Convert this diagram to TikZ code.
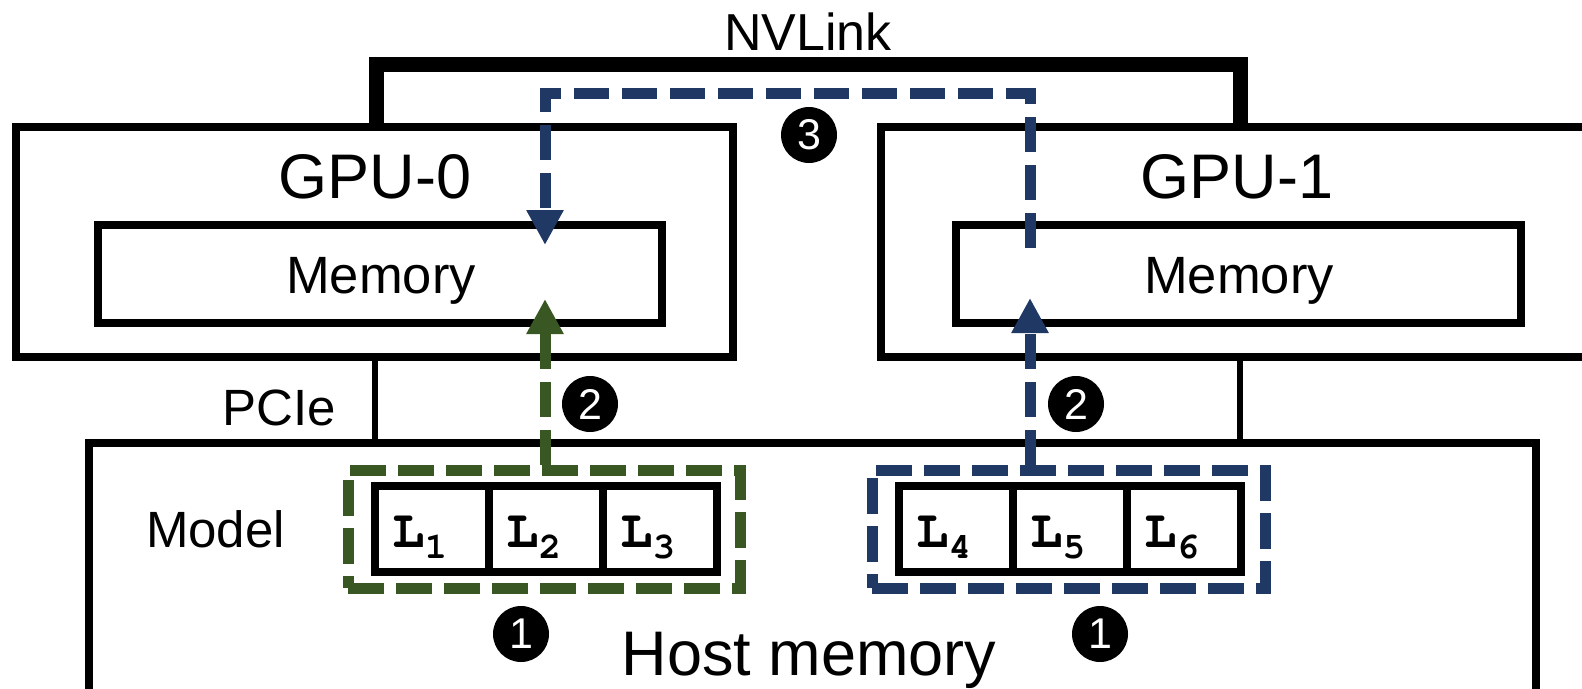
\documentclass[tikz,border=0pt]{standalone}
\usepackage{fontspec}
\setmainfont{Liberation Sans}
\usetikzlibrary{arrows.meta}
\definecolor{nblue}{HTML}{203864}
\definecolor{ngreen}{HTML}{385723}
\newcommand{\fs}[1]{\fontsize{#1}{#1}\selectfont}
\newcommand{\cour}{\fontencoding{OT1}\fontfamily{pcr}\fontseries{b}\fontshape{n}}
\newcommand{\Lsub}[1]{{\cour\fs{54}L\raisebox{-11pt}{\fs{37}#1}}}
\tikzset{
  box/.style={draw, line width=7.5pt, rectangle, inner sep=0pt},
  cell/.style={box, minimum width=114pt, minimum height=86pt},
  grp/.style={draw, line width=11pt, dash pattern=on 36pt off 12pt, rectangle, inner sep=0pt, minimum height=118pt},
  num/.style={circle, fill=black, text=white, minimum size=56pt, inner sep=0pt, font=\fs{43}},
  lbl/.style={inner sep=0pt, anchor=base},
  flow/.style={line width=11pt, dash pattern=on 35pt off 13pt, line join=miter, -{Triangle[length=35pt,width=35pt]}},
}
\begin{document}
\begin{tikzpicture}[x=1pt,y=-1pt]
\useasboundingbox (0,0) rectangle (1582,688);
\begin{scope}
\clip (0,0) rectangle (1582,688);
% GPU boxes
\node[box, minimum width=717pt, minimum height=230pt] (gpu0) at (374.5,242) {};
\node[box, minimum width=769pt, minimum height=230pt] (gpu1) at (1265.5,242) {};
\node[box, minimum width=564pt, minimum height=98pt] (mem0) at (380,274) {};
\node[box, minimum width=565pt, minimum height=98pt] (mem1) at (1238.5,274) {};
\node[lbl, font=\fs{63}] (gpu0t) at (375,198) {GPU-0};
\node[lbl, font=\fs{63}] (gpu1t) at (1237,198) {GPU-1};
\node[lbl, font=\fs{52.5}] (mem0t) at (381,293) {Memory};
\node[lbl, font=\fs{52.5}] (mem1t) at (1239,293) {Memory};
% host
\node[box, minimum width=1447pt, minimum height=277pt] (host) at (812.5,581.5) {};
\node[lbl, font=\fs{63}] (hostt) at (809,675) {Host memory};
\node[lbl, font=\fs{51}] (model) at (215.5,547) {Model};
% NVLink
\coordinate (nvl) at (376,64);
\coordinate (nvr) at (1240,64);
\draw[line width=15pt, line join=miter] (gpu0.north -| nvl) -- (nvl) -- (nvr) -- (gpu1.north -| nvr);
\node[lbl, font=\fs{52}] (nvt) at (808,50) {NVLink};
% PCIe
\coordinate (pl) at (375,400);
\coordinate (pr) at (1240,400);
\draw[line width=6.5pt] (gpu0.south -| pl) -- (host.north -| pl);
\draw[line width=6.5pt] (gpu1.south -| pr) -- (host.north -| pr);
\node[lbl, font=\fs{51}] (pcie) at (279.5,425) {PCIe};
% layer cells
\node[cell] (l1) at (432,529) {};
\node[cell] (l2) at (546,529) {};
\node[cell] (l3) at (660,529) {};
\node[cell] (l4) at (956,529) {};
\node[cell] (l5) at (1070,529) {};
\node[cell] (l6) at (1184,529) {};
\foreach \i in {1,...,6}{
  \node[inner sep=0pt, anchor=base west] (t\i) at ([xshift=21pt,yshift=-18pt]l\i.west) {\Lsub{\i}};
}
% groups
\node[grp, color=ngreen, minimum width=392pt] (grect) at (544,529) {};
\node[grp, color=nblue, minimum width=393pt] (brect) at (1068.5,529) {};
% arrows
\coordinate (g2tip) at (545,299);
\coordinate (b2tip) at (1030,298);
\draw[flow, color=ngreen] (grect.north -| g2tip) -- (g2tip);
\draw[flow, color=nblue] (brect.north -| b2tip) -- (b2tip);
\coordinate (b3s) at (1030,248);
\coordinate (b3a) at (1030,93);
\coordinate (b3b) at (545,93);
\coordinate (b3tip) at (545,245);
\draw[flow, color=nblue] (b3s) -- (b3a) -- (b3b) -- (b3tip);
% step numbers
\node[num] (n1a) at (521,634) {1};
\node[num] (n1b) at (1100,634) {1};
\node[num] (n2a) at (590,404) {2};
\node[num] (n2b) at (1076,404) {2};
\node[num] (n3) at (809,135) {3};
\end{scope}
\end{tikzpicture}
\end{document}
